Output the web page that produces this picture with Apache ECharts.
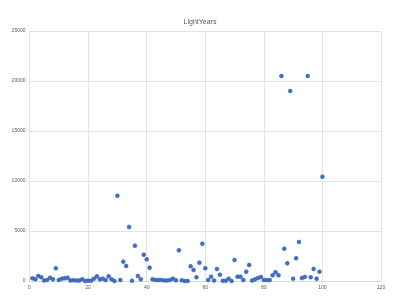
<!DOCTYPE html>
<html><head><meta charset="utf-8">
<script src="https://cdn.jsdelivr.net/npm/echarts@6/dist/echarts.min.js"></script>
<style>html,body{margin:0;padding:0;background:#fff}#c{width:400px;height:300px}</style>
</head><body><div id="c"></div>
<script>
const title = "LightYears";
const xValues = [1,2,3,4,5,6,7,8,9,10,11,12,13,14,15,16,17,18,19,20,21,22,23,24,25,26,27,28,29,30,31,32,33,34,35,36,37,38,39,40,41,42,43,44,45,46,47,48,49,50,51,52,53,54,55,56,57,58,59,60,61,62,63,64,65,66,67,68,69,70,71,72,73,74,75,76,77,78,79,80,81,82,83,84,85,86,87,88,89,90,91,92,93,94,95,96,97,98,99,100];
const lightYears = [270,170,500,380,50,100,330,170,1270,100,230,270,330,50,70,50,50,170,0,30,30,230,470,170,230,100,470,170,0,8530,100,1930,1500,5400,30,3530,500,170,2630,2170,1330,170,100,100,100,50,50,100,230,70,3070,70,0,0,1470,1100,370,1830,3730,1270,100,430,50,1200,630,30,30,230,0,2100,430,430,100,930,1600,50,170,300,400,100,100,100,570,870,570,20500,3230,1770,19000,230,2270,3900,300,400,20500,370,1200,230,930,10430];
const data = xValues.map((x, i) => [x, lightYears[i]]);
const chart = echarts.init(document.getElementById('c'), null, {renderer: 'canvas'});
chart.setOption({
  animation: false,
  backgroundColor: '#fff',
  title: {text: title, left: 'center', top: 14, textStyle: {fontSize: 7, fontWeight: 'normal', color: '#595959', fontFamily: 'Liberation Sans'}},
  grid: {left: 29.5, right: 19, top: 31, bottom: 19},
  xAxis: {type: 'value', min: 0, max: 120, interval: 20,
    axisLine: {show: true, lineStyle: {color: '#d9d9d9'}}, axisTick: {show: false},
    axisLabel: {fontSize: 5, color: '#595959', margin: 4, fontFamily: 'Liberation Sans', formatter: v => String(v)},
    splitLine: {show: true, lineStyle: {color: '#e3e3e3', width: 1}}},
  yAxis: {type: 'value', min: 0, max: 25000, interval: 5000,
    axisLine: {show: false}, axisTick: {show: false},
    axisLabel: {fontSize: 5, color: '#595959', margin: 4, fontFamily: 'Liberation Sans', formatter: v => String(v)},
    splitLine: {show: true, lineStyle: {color: '#e3e3e3', width: 1}}},
  series: [{type: 'scatter', data: data, symbol: 'circle', symbolSize: 4,
    itemStyle: {color: '#3f6fc4', borderColor: '#3562b5', borderWidth: 0.5, opacity: 1}}]
});
</script></body></html>
